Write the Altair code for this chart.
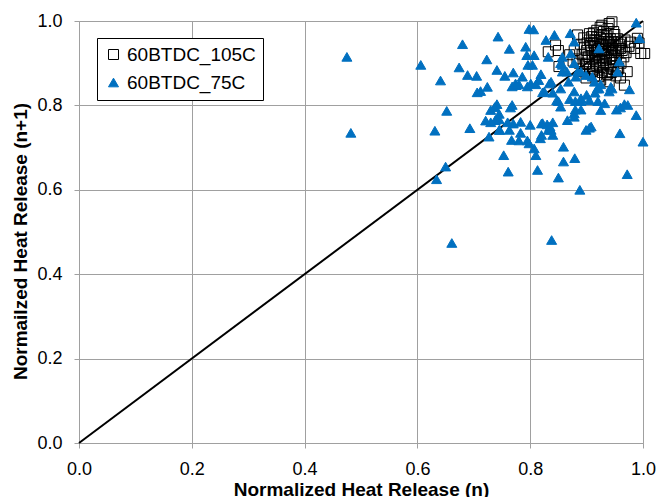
import altair as alt
import pandas as pd

# ---- data ----
series_names = ["60BTDC_105C", "60BTDC_75C"]

x105 = [0.940, 0.927, 0.945, 0.990, 0.993, 0.996, 1.003, 0.832, 0.845, 0.850, 0.851, 0.884,
        0.895, 0.905, 0.967, 0.922, 0.937, 0.985, 0.975, 0.960, 0.900, 0.878, 0.870,
        0.905, 0.912, 0.918, 0.925, 0.931, 0.936, 0.942, 0.948, 0.915, 0.921, 0.928, 0.934,
        0.940, 0.946, 0.952, 0.908, 0.914, 0.920, 0.926, 0.932, 0.938, 0.944, 0.950, 0.956,
        0.903, 0.910, 0.916, 0.923, 0.929, 0.935, 0.941, 0.947, 0.953, 0.898, 0.905, 0.912,
        0.918, 0.924, 0.930, 0.936, 0.942, 0.948, 0.906, 0.914, 0.928, 0.935, 0.944, 0.952,
        0.892, 0.896, 0.889, 0.901, 0.958, 0.963, 0.966, 0.961, 0.957, 0.970, 0.918, 0.930,
        0.924, 0.912, 0.938, 0.950, 0.955, 0.883, 0.887, 0.876, 0.893, 0.899, 0.925, 0.940,
        0.960, 0.972, 0.968, 0.978, 0.915, 0.909, 0.927, 0.943, 0.919, 0.933, 0.900, 0.907,
        0.939, 0.962, 0.955, 0.910, 0.897, 0.922, 0.945, 0.930, 0.916, 0.952, 0.935, 0.927,
        0.948]
y105 = [0.994, 0.990, 0.998, 0.959, 0.948, 0.923, 0.923, 0.927, 0.943, 0.930, 0.892, 0.967,
        0.960, 0.970, 0.848, 0.868, 0.874, 0.935, 0.940, 0.935, 0.900, 0.930, 0.920,
        0.955, 0.948, 0.962, 0.957, 0.951, 0.965, 0.958, 0.950, 0.940, 0.935, 0.943, 0.938,
        0.944, 0.936, 0.941, 0.930, 0.925, 0.920, 0.928, 0.922, 0.930, 0.925, 0.918, 0.926,
        0.915, 0.910, 0.905, 0.912, 0.906, 0.914, 0.908, 0.902, 0.910, 0.897, 0.892, 0.886,
        0.895, 0.890, 0.896, 0.888, 0.893, 0.885, 0.875, 0.870, 0.878, 0.872, 0.878, 0.870,
        0.920, 0.938, 0.945, 0.948, 0.945, 0.930, 0.915, 0.900, 0.888, 0.925, 0.978, 0.975,
        0.985, 0.972, 0.982, 0.968, 0.958, 0.910, 0.900, 0.905, 0.880, 0.865, 0.860, 0.856,
        0.865, 0.880, 0.955, 0.950, 0.955, 0.963, 0.947, 0.917, 0.929, 0.900, 0.930, 0.942,
        0.950, 0.950, 0.880, 0.880, 0.910, 0.898, 0.910, 0.932, 0.915, 0.930, 0.958, 0.968,
        0.975]

x75 = [0.475, 0.482, 0.606, 0.641, 0.652, 0.631, 0.650, 0.634, 0.661, 0.838,
       0.680, 0.743, 0.763, 0.723, 0.674, 0.689, 0.705, 0.741, 0.755, 0.770, 0.774, 0.786,
       0.798, 0.806, 0.792, 0.794, 0.807, 0.796, 0.804, 0.724, 0.712, 0.706, 0.780, 0.801,
       0.819, 0.815, 0.828, 0.822, 0.834, 0.730, 0.741, 0.768, 0.765,
       0.737, 0.721, 0.730, 0.738, 0.745, 0.760, 0.770, 0.746, 0.763, 0.822, 0.830, 0.832,
       0.840, 0.866, 0.878, 0.899, 0.905, 0.988, 0.973, 0.960, 0.768, 0.775, 0.795, 0.810,
       0.840, 0.850, 0.870, 0.880, 0.890, 0.900, 0.915, 0.925, 0.945,
       0.693, 0.727, 0.745, 0.745, 0.783, 0.800, 0.820, 0.835, 0.783, 0.767, 0.780, 0.795,
       0.798, 0.818, 0.807, 0.810, 0.753, 0.761, 0.813,
       0.854, 0.880, 0.890, 0.925, 0.953, 0.878, 0.837, 0.908, 0.959, 1.000, 0.820, 0.840,
       0.859, 0.859, 0.879, 0.850, 0.972, 0.888,
       0.988, 0.994, 0.871, 0.843, 0.878, 0.832, 0.922, 0.857, 0.854, 0.872, 0.878, 0.958,
       0.955, 0.976, 0.857, 0.884, 0.899, 0.868, 0.837, 0.914, 0.940, 0.922, 0.854, 0.825,
       0.878, 0.890, 0.905, 0.847, 0.920, 0.967, 0.932,
       0.857, 0.865, 0.881, 0.890, 0.910, 0.943, 0.919]
y75 = [0.915, 0.735, 0.896, 0.859, 0.787, 0.740, 0.655, 0.625, 0.474, 0.481,
       0.945, 0.963, 0.934, 0.909, 0.890, 0.872, 0.870, 0.884, 0.870, 0.878, 0.852, 0.868,
       0.981, 0.980, 0.939, 0.919, 0.919, 0.896, 0.896, 0.844, 0.834, 0.831, 0.850, 0.852,
       0.874, 0.860, 0.955, 0.831, 0.852, 0.789, 0.803, 0.801, 0.795,
       0.796, 0.764, 0.760, 0.765, 0.767, 0.760, 0.757, 0.742, 0.742, 0.758, 0.755, 0.742,
       0.760, 0.765, 0.781, 0.742, 0.747, 0.777, 0.801, 0.795, 0.845, 0.848, 0.845, 0.850,
       0.830, 0.810, 0.815, 0.810, 0.810, 0.825, 0.830, 0.850, 0.840,
       0.746, 0.726, 0.780, 0.742, 0.761, 0.754, 0.757, 0.750, 0.735, 0.718, 0.717, 0.717,
       0.710, 0.722, 0.698, 0.682, 0.682, 0.643, 0.647,
       0.797, 0.790, 0.790, 0.789, 0.790, 0.773, 0.742, 0.750, 0.734, 0.714, 0.730, 0.730,
       0.702, 0.667, 0.675, 0.629, 0.637, 0.600,
       0.996, 0.959, 0.971, 0.967, 0.951, 0.915, 0.935, 0.915, 0.900, 0.923, 0.900, 0.904,
       0.880, 0.838, 0.880, 0.880, 0.872, 0.856, 0.856, 0.856, 0.833, 0.840, 0.840, 0.833,
       0.833, 0.817, 0.812, 0.812, 0.810, 0.803, 0.805,
       0.896, 0.880, 0.868, 0.880, 0.868, 0.844, 0.840]

ref_x = [0.0, 1.0]
ref_y = [0.0, 1.0]
tick_values = [0.0, 0.2, 0.4, 0.6, 0.8, 1.0]

BLUE = "#0070C0"
GRID = "#a0a0a0"
FONT = "Liberation Sans"

pts = pd.concat([
    pd.DataFrame({"x": x105, "y": y105, "series": series_names[0]}),
    pd.DataFrame({"x": x75, "y": y75, "series": series_names[1]}),
], ignore_index=True)
ref = pd.DataFrame({"x": ref_x, "y": ref_y})

xscale = alt.Scale(domain=[0, 1], nice=False, zero=False)
yscale = alt.Scale(domain=[0, 1], nice=False, zero=False)

xaxis = alt.Axis(values=tick_values, format=".1f", title="Normalized Heat Release (n)",
                 titleX=282, titleY=52, titleBaseline="alphabetic", titleAnchor="middle",
                 labelFlush=False, labelPadding=12)
yaxis = alt.Axis(values=tick_values, format=".1f", title="Normailzed Heat Release (n+1)",
                 titleX=-59, titleY=220, titleAngle=-90, titleBaseline="middle",
                 titleAnchor="middle", labelFlush=False, labelPadding=12)

line = alt.Chart(ref).mark_line(color="black", strokeWidth=2).encode(
    x=alt.X("x:Q", scale=xscale, axis=xaxis),
    y=alt.Y("y:Q", scale=yscale, axis=yaxis),
)

legend = alt.Legend(title=None, orient="none", legendX=18, legendY=17,
                    strokeColor="black", fillColor="white", padding=7,
                    labelFontSize=19, labelFont=FONT, labelColor="black",
                    symbolSize=100, symbolStrokeWidth=1, rowPadding=8, labelOffset=4)
sdomain = series_names

points = alt.Chart(pts).mark_point(filled=True, strokeWidth=1, opacity=1, size=100).encode(
    x=alt.X("x:Q", scale=xscale, axis=xaxis),
    y=alt.Y("y:Q", scale=yscale, axis=yaxis),
    shape=alt.Shape("series:N", scale=alt.Scale(domain=sdomain, range=["square", "triangle-up"]),
                    legend=legend),
    fill=alt.Fill("series:N", scale=alt.Scale(domain=sdomain, range=["transparent", BLUE]),
                  legend=legend),
    stroke=alt.Stroke("series:N", scale=alt.Scale(domain=sdomain, range=["black", BLUE]),
                      legend=legend),
)

chart = alt.layer(line, points).properties(
    width=564, height=422,
    autosize=alt.AutoSizeParams(type="none"),
    padding={"left": 79, "top": 21, "right": 17, "bottom": 54},
    background="white",
).configure_view(stroke=None).configure_axis(
    grid=True, gridColor=GRID, gridWidth=1,
    domainColor=GRID, tickColor=GRID, tickSize=5,
    labelFont=FONT, labelFontSize=18, labelColor="black",
    titleFont=FONT, titleFontSize=19, titleFontWeight="bold", titleColor="black",
)

chart.save("out.html", embed_options={"renderer": "svg", "actions": False})
